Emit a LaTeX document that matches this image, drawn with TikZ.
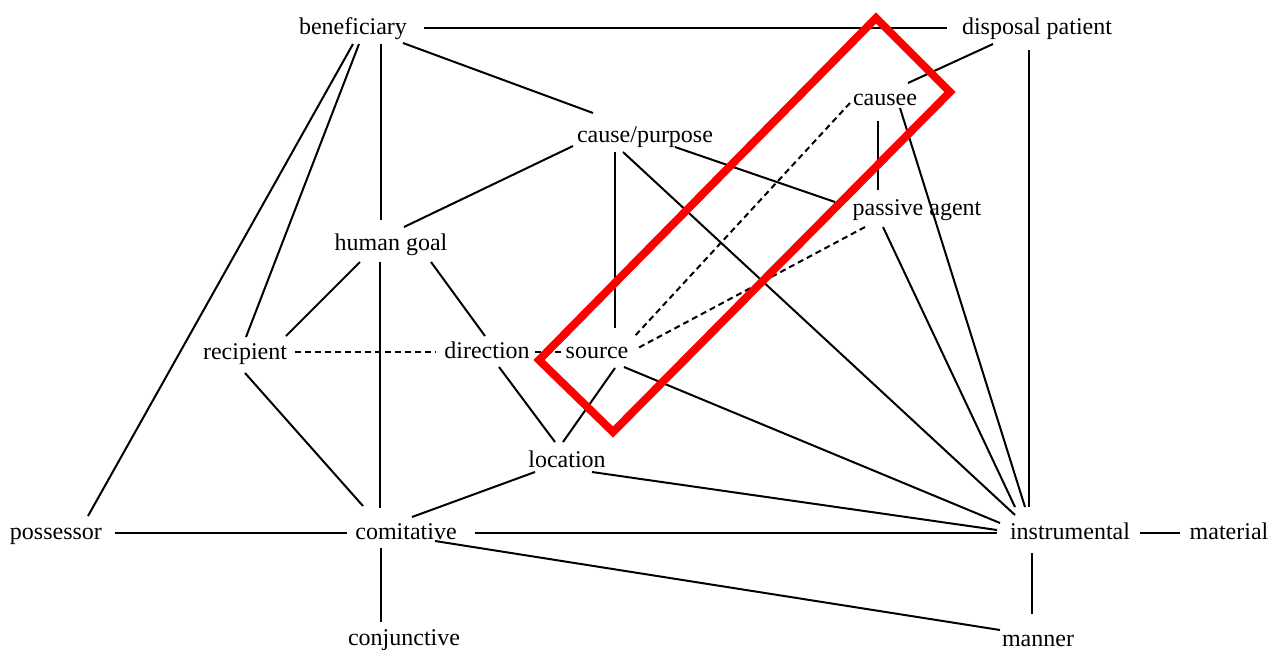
\documentclass[tikz,border=0pt]{standalone}
\usepackage{fontspec}
\setmainfont{Liberation Serif}
\usetikzlibrary{calc}
\begin{document}
\begin{tikzpicture}[x=0.5pt,y=-0.5pt,
  lbl/.style={inner sep=0pt, anchor=base, font=\fontsize{12}{14}\selectfont},
  edge/.style={line width=1pt, black},
  dedge/.style={line width=1pt, black, dash pattern=on 3pt off 2pt},
  hilite/.style={draw=red, line width=4pt, line join=miter}]
\useasboundingbox (0,0) rectangle (1270,650);
\node[lbl] (ben)  at (353,34)  {beneficiary};
\node[lbl] (dp)   at (1037,34) {disposal patient};
\node[lbl] (cse)  at (885,105) {causee};
\node[lbl] (cp)   at (645,142) {cause/purpose};
\node[lbl] (pa)   at (917,215) {passive agent};
\node[lbl] (hg)   at (391,250) {human goal};
\node[lbl] (rec)  at (245,359) {recipient};
\node[lbl] (dir)  at (487,358) {direction};
\node[lbl] (src)  at (597,358) {source};
\node[lbl] (loc)  at (567,467) {location};
\node[lbl] (pos)  at (56,539)  {possessor};
\node[lbl] (com)  at (406,539) {comitative};
\node[lbl] (ins)  at (1070,539) {instrumental};
\node[lbl] (mat)  at (1229,539) {material};
\node[lbl] (conj) at (404,645) {conjunctive};
\node[lbl] (man)  at (1038,646) {manner};

\draw[edge] ($(ben.base)+(71,-6)$) -- ($(dp.base)+(-90,-6)$);
\draw[edge] ($(ben.base)+(50,9)$) -- ($(cp.base)+(-52,-29)$);
\draw[edge] ($(ben.base)+(28,10)$) -- ($(hg.base)+(-10,-30)$);
\draw[edge] ($(hg.base)+(-11,12)$) -- ($(com.base)+(-26,-31)$);
\draw[edge] ($(ben.base)+(6,10)$) -- ($(rec.base)+(1,-22)$);
\draw[edge] ($(ben.base)+(0,10)$) -- ($(pos.base)+(32,-23)$);
\draw[edge] ($(dp.base)+(-44,10)$) -- ($(cse.base)+(23,-22)$);
\draw[edge] ($(dp.base)+(-8,16)$) -- ($(ins.base)+(-41,-32)$);
\draw[edge] ($(cse.base)+(-7,16)$) -- ($(pa.base)+(-39,-25)$);
\draw[edge] ($(cse.base)+(15,3)$) -- ($(ins.base)+(-45,-32)$);
\draw[edge] ($(pa.base)+(-34,12)$) -- ($(ins.base)+(-55,-32)$);
\draw[edge] ($(cp.base)+(-22,10)$) -- ($(ins.base)+(-55,-24)$);
\draw[edge] ($(src.base)+(27,9)$) -- ($(ins.base)+(-70,-16)$);
\draw[edge] ($(loc.base)+(25,5)$) -- ($(ins.base)+(-73,-9)$);
\draw[edge] ($(com.base)+(69,-6)$) -- ($(ins.base)+(-73,-6)$);
\draw[edge] ($(ins.base)+(70,-6)$) -- ($(mat.base)+(-49,-6)$);
\draw[edge] ($(ins.base)+(-38,14)$) -- ($(man.base)+(-6,-32)$);
\draw[edge] ($(com.base)+(29,2)$) -- ($(man.base)+(-38,-16)$);
\draw[edge] ($(com.base)+(-25,9)$) -- ($(conj.base)+(-23,-23)$);
\draw[edge] ($(pos.base)+(59,-6)$) -- ($(com.base)+(-59,-6)$);
\draw[edge] ($(rec.base)+(0,14)$) -- ($(com.base)+(-43,-33)$);
\draw[edge] ($(loc.base)+(-32,5)$) -- ($(com.base)+(6,-22)$);
\draw[edge] ($(hg.base)+(-31,12)$) -- ($(rec.base)+(41,-23)$);
\draw[edge] ($(hg.base)+(40,12)$) -- ($(dir.base)+(-2,-22)$);
\draw[edge] ($(cp.base)+(-72,4)$) -- ($(hg.base)+(13,-23)$);
\draw[edge] ($(cp.base)+(-30,10)$) -- ($(src.base)+(18,-30)$);
\draw[edge] ($(cp.base)+(30,5)$) -- ($(pa.base)+(-82,-13)$);
\draw[dedge] ($(rec.base)+(50,-7)$) -- ($(dir.base)+(-51,-6)$);
\draw[dedge] ($(dir.base)+(48,-6)$) -- ($(src.base)+(-36,-6)$);
\draw[edge] ($(dir.base)+(12,9)$) -- ($(loc.base)+(-12,-25)$);
\draw[edge] ($(src.base)+(18,10)$) -- ($(loc.base)+(-4,-25)$);
\draw[dedge] ($(cse.base)+(-35,-2)$) -- ($(src.base)+(36,-20)$);
\draw[dedge] ($(pa.base)+(-52,12)$) -- ($(src.base)+(41,-10)$);

\draw[hilite] (876,18) -- (950,92) -- (613,432) -- (539,360) -- cycle;
\end{tikzpicture}
\end{document}
